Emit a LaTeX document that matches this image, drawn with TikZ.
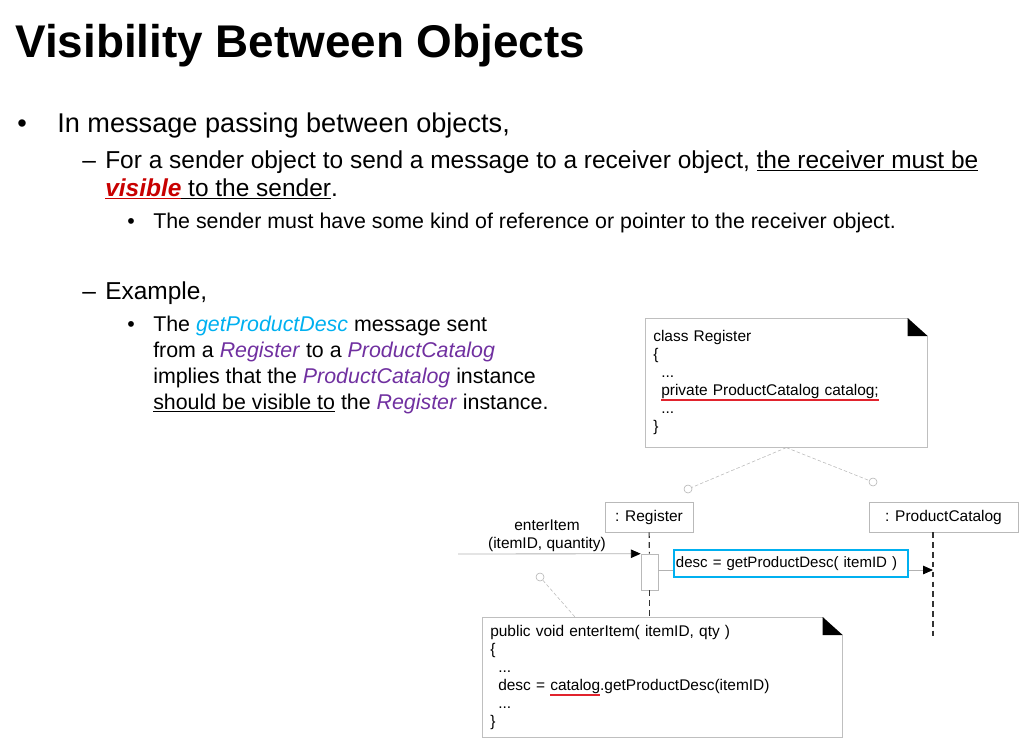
\documentclass[tikz,border=0pt]{standalone}
\usepackage{fontspec}
\setmainfont{Liberation Sans}
\usepackage{xcolor}
\usetikzlibrary{arrows.meta,positioning,calc,shadows}

\definecolor{msgcyan}{RGB}{0,176,240}
\definecolor{typepurple}{RGB}{112,48,160}
\definecolor{alertred}{RGB}{200,0,0}
\definecolor{markred}{RGB}{225,35,45}

% red mark under a piece of code
\newcommand{\markline}[1]{\sbox0{#1}\rlap{\textcolor{markred}{\rule[-4pt]{\wd0}{1.4pt}}}\usebox0}
% folded corner of a note
\newcommand{\foldcorner}[1]{%
  \fill[white] ($(#1.north east)+(-20,-1)$) -- ($(#1.north east)+(1,-1)$) -- ($(#1.north east)+(1,19)$) -- cycle;
  \fill[black] ($(#1.north east)+(-20,0)$) -- ($(#1.north east)+(-20,18)$) -- ($(#1.north east)+(0,18)$) -- cycle;}

\begin{document}
\begin{tikzpicture}[x=0.025cm, y=-0.025cm,
  txt/.style={anchor=base west, inner sep=0pt},
  headline/.style={txt, font=\fontsize{32.6}{39}\selectfont\bfseries},
  levela/.style={txt, font=\fontsize{19.3}{23}\selectfont},
  levelb/.style={txt, font=\fontsize{17.4}{21}\selectfont},
  levelc/.style={txt, font=\fontsize{15.2}{18}\selectfont},
  note/.style={rectangle, draw=gray!50, fill=white, anchor=north west,
    inner sep=0.2cm, align=left, font=\fontsize{11}{12.8}\selectfont,
    drop shadow={opacity=0.2, shadow xshift=0.5pt, shadow yshift=-0.5pt}},
  obj/.style={rectangle, draw=gray!55, fill=white, minimum height=0.75cm,
    inner sep=2pt, font=\fontsize{11}{13}\selectfont},
  act/.style={rectangle, draw=gray!55, fill=white, minimum width=0.425cm,
    minimum height=0.9cm, inner sep=0pt},
  life/.style={draw=gray!40!black, line width=0.8pt, dash pattern=on 4pt off 3pt},
  msg/.style={draw=gray!60, line width=0.6pt,
    -{Triangle[length=7pt, width=6pt, color=black, fill=black]}},
  anchorline/.style={draw=gray!55, thin, dash pattern=on 2.5pt off 1.5pt},
  knob/.style={circle, draw=gray!60, fill=white, inner sep=0pt, minimum size=0.2cm},
  callbox/.style={rectangle, draw=msgcyan, line width=1.6pt, fill=white,
    text width=5.75cm, minimum height=0.675cm, inner sep=1.5pt, align=left,
    font=\fontsize{10.7}{13}\selectfont},
]
\useasboundingbox (0,0) rectangle (1029,750);

% Heading
\node[headline] (title) at (15,57) {Visibility Between Objects};

% Bullets
\node[levela] (b1) at (17,132) {\textbullet};
\node[levela] (t1) at (57,132) {In message passing between objects,};
\node[levelb] (d1) at (82,168) {–};
\node[levelb] (t2) at (105,168) {For a sender object to send a message to a receiver object, \underline{the receiver must be}};
\node[levelb] (t2b) at (105,196) {\textcolor{alertred}{\underline{\textbf{\textit{visible}}}}\underline{ to the sender}.};
\node[levelc] (b2) at (127,228) {\textbullet};
\node[levelc] (t3) at (153,228) {The sender must have some kind of reference or pointer to the receiver object.};
\node[levelb] (d2) at (82,299) {–};
\node[levelb] (t4) at (105,299) {Example,};
\node[levelc] (b3) at (127,331) {\textbullet};
\node[levelc] (e1) at (153,331) {The \textcolor{msgcyan}{\textit{getProductDesc}} message sent};
\node[levelc] (e2) at (153,357) {from a \textcolor{typepurple}{\textit{Register}} to a \textcolor{typepurple}{\textit{ProductCatalog}}};
\node[levelc] (e3) at (153,383) {implies that the \textcolor{typepurple}{\textit{ProductCatalog}} instance};
\node[levelc] (e4) at (153,409) {\underline{should be visible to} the \textcolor{typepurple}{\textit{Register}} instance.};

% Class note
\node[note, text width=6.65cm, minimum height=3.225cm] (clsnote) at (645,318)
  {class Register\\ \{\\ \hspace*{0.2cm}...\\ \hspace*{0.2cm}\markline{private ProductCatalog catalog;}\\ \hspace*{0.2cm}...\\ \}};
\foldcorner{clsnote}

% Lifelines
\node[obj, minimum width=2.2cm] (reg) at (649,517) {: Register};
\node[obj, minimum width=3.725cm] (cat) at (943.5,517) {: ProductCatalog};
\node[act] (act) at (649.5,572) {};
\coordinate (regend) at (649.5,622);
\coordinate (catend) at (933,637);
\draw[life] (reg) -- (act);
\draw[life] (act) -- (regend);
\draw[life] (cat.south -| catend) -- (catend);

% Messages
\coordinate (caller) at (458,554);
\draw[msg] (caller) -- (act.north west);
\node[font=\fontsize{11}{12.8}\selectfont, align=center] (calllbl) at (547,536) {enterItem\\(itemID, quantity)};
\coordinate (catin) at (933,570);
\draw[msg] (act.east |- catin) -- (catin);
\node[callbox] (callmsg) at (791,563.5) {desc = getProductDesc( itemID )};

% Note anchors
\node[knob] (k1) at (688,489) {};
\node[knob] (k2) at (873,482) {};
\node[knob] (k3) at (540,577) {};
\draw[anchorline] (clsnote.south) -- (k1);
\draw[anchorline] (clsnote.south) -- (k2);

% Method note
\node[note, text width=8.6cm, minimum height=2.95cm] (mthnote) at (482,617)
  {public void enterItem( itemID, qty )\\ \{\\ \hspace*{0.2cm}...\\ \hspace*{0.2cm}desc = \markline{catalog}.getProductDesc(itemID)\\ \hspace*{0.2cm}...\\ \}};
\foldcorner{mthnote}
\coordinate (mthtop) at (575,617);
\draw[anchorline] (k3) -- (mthtop);
\end{tikzpicture}
\end{document}
